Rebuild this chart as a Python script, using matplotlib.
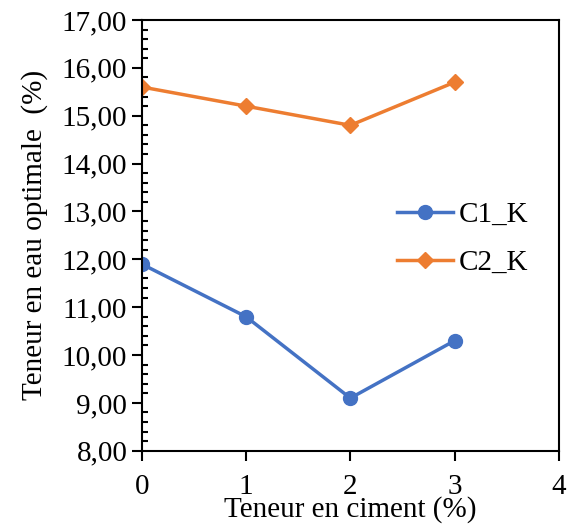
import matplotlib
matplotlib.use("Agg")
import matplotlib.pyplot as plt
from matplotlib.ticker import MultipleLocator, FuncFormatter

plt.rcParams['font.family'] = ['Liberation Serif', 'DejaVu Serif']

ciment = [0, 1, 2, 3]
c1_k = [11.9, 10.8, 9.1, 10.3]
c2_k = [15.6, 15.2, 14.8, 15.7]

fig = plt.figure(figsize=(5.72, 5.26), dpi=100)
ax = fig.add_axes([0.248, 0.143, 0.729, 0.819])

ax.plot(ciment, c1_k, color="#4472C4", lw=2.5, marker="o", ms=10, label="C1_K")
ax.plot(ciment, c2_k, color="#ED7D31", lw=2.5, marker="D", ms=8, label="C2_K")

ax.set_xlim(0, 4)
ax.set_ylim(8, 17)
ax.xaxis.set_major_locator(MultipleLocator(1))
ax.yaxis.set_major_locator(MultipleLocator(1))
ax.yaxis.set_minor_locator(MultipleLocator(0.2))
ax.yaxis.set_major_formatter(FuncFormatter(lambda v, p: f"{v:.2f}".replace(".", ",")))

ax.tick_params(axis="both", which="major", direction="out", length=7, width=1.5, labelsize=21)
ax.tick_params(axis="x", which="major", pad=10)
ax.tick_params(axis="y", which="minor", direction="in", length=4, width=1.5)
for s in ax.spines.values():
    s.set_linewidth(1.5)

ax.set_xlabel("Teneur en ciment (%)", fontsize=21, labelpad=-3)
ax.set_ylabel("Teneur en eau optimale  (%)", fontsize=21, labelpad=10)

ax.legend(loc="upper left", bbox_to_anchor=(0.55, 0.64), frameon=False, fontsize=21,
          handlelength=1.9, handletextpad=0.2, labelspacing=0.75)

fig.savefig("out.png", dpi=100)
